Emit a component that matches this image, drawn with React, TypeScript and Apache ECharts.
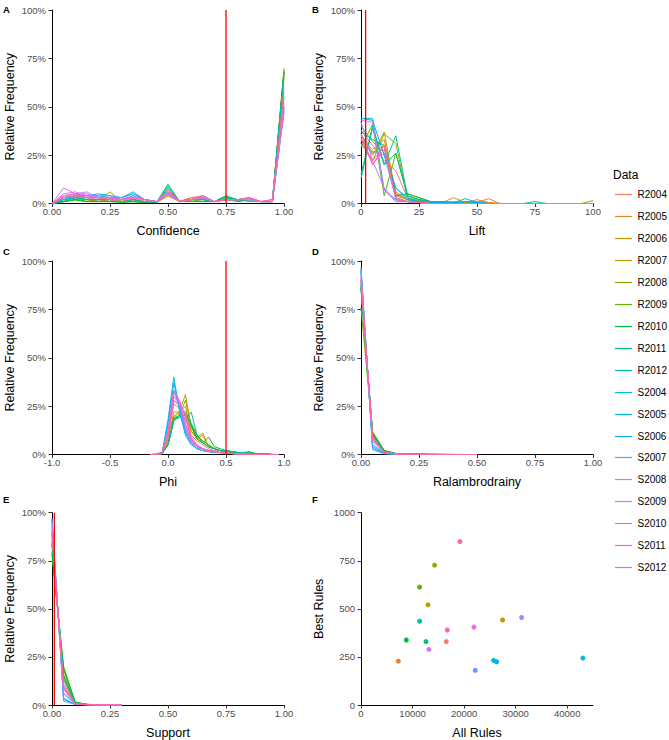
import React, { useEffect, useRef } from "react";
import * as echarts from "echarts";

const categories = [
  "R2004", "R2005", "R2006", "R2007", "R2008", "R2009", "R2010", "R2011", "R2012",
  "S2004", "S2005", "S2006", "S2007", "S2008", "S2009", "S2010", "S2011", "S2012",
];

// Panel A: Confidence (relative frequency %, per category)
const confidenceBins = [0, 0.05, 0.1, 0.15, 0.2, 0.25, 0.3, 0.35, 0.4, 0.45, 0.5, 0.55, 0.6, 0.65, 0.7, 0.75, 0.8, 0.85, 0.9, 0.95, 1.0];
const confidenceFreq = [
  [0, 2, 4, 3, 2, 2, 1, 2, 1, 0.5, 4, 1, 2, 3, 1, 2, 1, 3, 1, 1, 60],
  [0, 1, 2, 1, 2, 1, 1, 2, 1, 0.5, 4, 1, 3, 4, 1, 3, 2, 2, 1, 1, 70],
  [0, 1, 2, 2, 1, 2, 1, 1, 1, 0.5, 5, 1, 3, 3, 1, 2, 2, 2, 1, 1, 68],
  [0, 1, 3, 2, 2, 3, 1, 2, 1, 0.5, 5, 1, 2, 3, 1, 3, 2, 2, 1, 1, 66],
  [0, 1, 2, 1, 2, 6, 1, 1, 1, 0.5, 6, 1, 2, 2, 1, 2, 2, 1, 1, 1, 65],
  [0, 1, 2, 1, 1, 1, 1, 1, 0.5, 0.5, 7, 1, 2, 1, 1, 3, 1, 2, 1, 1, 69],
  [0, 1, 2, 1, 1, 1, 0.5, 1, 0.5, 0.5, 8, 1, 1, 1, 1, 4, 1, 2, 1, 1, 68],
  [0, 1, 3, 2, 2, 2, 1, 2, 1, 0.5, 10, 1, 2, 2, 1, 4, 2, 2, 1, 1, 67],
  [0, 2, 3, 2, 2, 2, 1, 2, 1, 0.5, 9, 1, 2, 2, 1, 3, 2, 2, 1, 1, 68],
  [0, 2, 3, 3, 3, 3, 2, 4, 2, 1, 6, 1, 2, 3, 1, 2, 2, 2, 1, 1, 55],
  [0, 2, 4, 4, 4, 3, 3, 6, 2, 1, 5, 1, 2, 3, 1, 2, 2, 2, 1, 1, 50],
  [0, 3, 4, 4, 5, 4, 3, 5, 2, 1, 5, 1, 2, 3, 1, 2, 2, 2, 1, 1, 48],
  [0, 3, 5, 4, 4, 4, 3, 5, 2, 1, 5, 1, 2, 3, 1, 2, 2, 2, 1, 1, 47],
  [0, 4, 5, 5, 3, 3, 2, 4, 2, 1, 5, 1, 2, 3, 1, 2, 2, 2, 1, 1, 50],
  [0, 8, 5, 6, 3, 3, 2, 3, 2, 1, 5, 1, 2, 3, 1, 2, 2, 3, 1, 2, 48],
  [0, 5, 6, 4, 3, 3, 2, 3, 2, 1, 6, 1, 2, 4, 1, 2, 2, 3, 1, 2, 50],
  [0, 4, 5, 3, 3, 3, 2, 3, 2, 1, 7, 1, 2, 4, 1, 2, 2, 3, 1, 2, 52],
  [0, 3, 4, 3, 3, 2, 1, 3, 1, 1, 7, 1, 2, 4, 1, 2, 2, 3, 1, 1, 58],
];

// Panel B: Lift
const liftBins = [0, 5, 10, 15, 20, 25, 30, 35, 40, 45, 50, 55, 60, 65, 70, 75, 80, 85, 90, 95, 100];
const liftFreq = [
  [38, 30, 22, 17, 3, 1, 0.5, 0.5, 0.5, 0.5, 0.5, 2.5, 0, 0, 0, 0, 0, 0, 0, 0, 0],
  [36, 26, 30, 5, 2, 1, 0.5, 0.5, 3, 0.5, 2, 0.5, 0, 0, 0, 0, 0, 0, 0, 0, 0],
  [33, 28, 33, 6, 2, 1, 0.5, 0.5, 1, 0.5, 1, 0.5, 0, 0, 0, 0, 0, 0, 0, 0, 0],
  [35, 25, 37, 4, 2, 1, 0.5, 0, 0.5, 0, 0.5, 0, 0, 0, 0, 0, 0, 0, 0, 0, 0],
  [31, 22, 36, 31, 3, 1.5, 1, 0.5, 0.5, 0, 0.5, 0, 0, 0, 0, 0, 0, 0, 0, 0, 1.5],
  [29, 41, 4, 26, 5, 3, 1, 0.5, 0.5, 0, 0, 0, 0, 0, 0, 0, 0, 0, 0, 0, 0],
  [37, 33, 30, 4, 5, 3, 1, 0.5, 0, 0, 0, 0, 0, 0, 0, 0, 0, 0, 0, 0, 0],
  [15, 40, 20, 26, 4, 2, 1, 0.5, 0, 0, 0, 0, 0, 0, 0, 0, 0, 0, 0, 0, 0],
  [13, 39, 20, 35, 4, 2, 1, 0.5, 0, 0, 0, 0, 0, 0, 0, 1, 0, 0, 0, 0, 0],
  [40, 32, 26, 8, 3, 1, 1, 1, 0.5, 1, 0, 0, 0, 0, 0, 0, 0, 0, 0, 0, 0],
  [44, 44, 7, 2, 1, 0.5, 0.5, 1, 0.5, 2.5, 0.5, 0, 0, 0, 0, 0, 0, 0, 0, 0, 0],
  [44, 43, 25, 8, 2, 1, 0.5, 0.5, 0.5, 1, 0.5, 0, 0, 0, 0, 0, 0, 0, 0, 0, 0],
  [30, 27, 25, 3, 1, 0.5, 0, 0, 0, 0, 0, 0, 0, 0, 0, 0, 0, 0, 0, 0, 0],
  [42, 22, 8, 1, 1, 0.5, 0, 0, 0, 0, 0, 0, 0, 0, 0, 0, 0, 0, 0, 0, 0],
  [43, 42, 7, 1, 1, 0.5, 0, 0, 0, 0, 0, 0, 0, 0, 0, 0, 0, 0, 0, 0, 0],
  [36, 20, 30, 2, 1, 0.5, 0, 0, 0, 0, 0, 0, 0, 0, 0, 0, 0, 0, 0, 0, 0],
  [34, 20, 28, 2, 1, 0.5, 0, 0, 0, 0, 0, 0, 0, 0, 0, 0, 0, 0, 0, 0, 0],
  [33, 22, 30, 3, 1, 0.5, 0, 0, 0, 0, 0, 0, 0, 0, 0, 0, 0, 0, 0, 0, 0],
];

// Panel C: Phi
const phiBins = [-0.15, -0.1, -0.05, 0, 0.05, 0.1, 0.15, 0.2, 0.25, 0.3, 0.35, 0.4, 0.45, 0.5, 0.55, 0.6, 0.65, 0.7, 0.75, 0.8, 0.85, 0.9, 0.95];
const phiFreq = [
  [0, 0, 1, 10, 26, 24, 18, 10, 7, 5, 3, 2, 2, 1.5, 1.5, 1, 1, 0.5, 0.5, 0.3, 0.2, 0.1, 0],
  [0, 0.5, 1, 8, 22, 22, 20, 12, 8, 6, 4, 3, 2, 1.5, 1, 1, 0.5, 0.5, 0.3, 0.2, 0.1, 0, 0],
  [0, 0, 0.5, 7, 20, 22, 25, 12, 9, 11, 4, 3, 2, 1.5, 1, 1, 0.5, 0.5, 0.3, 0.2, 0.1, 0, 0],
  [0, 0, 0.5, 6, 19, 22, 31, 14, 8, 10, 4, 3, 2, 1.5, 1, 1, 0.5, 0.5, 0.3, 0.2, 0.1, 0, 0],
  [0, 0, 0.5, 5, 18, 20, 28, 15, 9, 7, 5, 3, 2, 1.5, 1, 1, 0.5, 0.5, 0.3, 0.2, 0.1, 0, 0],
  [0, 0, 0.5, 5, 17, 21, 22, 16, 10, 7, 5, 3, 2, 2, 1.5, 1, 1, 1, 0.5, 0.3, 0.2, 0, 0],
  [0, 0, 0.5, 5, 18, 19, 21, 15, 8, 6, 9, 4, 3, 2, 1.5, 1, 1, 1.5, 0.5, 0.3, 0.2, 0, 0],
  [0, 0, 0.5, 5, 19, 20, 20, 16, 10, 6, 4, 3, 2, 2, 1.5, 1, 1, 1, 0.5, 0.3, 0.2, 0, 0],
  [0, 0, 0.5, 5, 18, 20, 18, 22, 10, 6, 4, 3, 2, 2, 1.5, 1, 1, 0.5, 0.5, 0.3, 0.2, 0, 0],
  [0, 0, 1, 12, 33, 25, 13, 7, 4, 3, 2, 1.5, 1, 1, 0.5, 0.5, 0.3, 0.2, 0.1, 0, 0, 0, 0],
  [0, 0, 1, 18, 40, 22, 10, 5, 3, 2, 1.5, 1, 1, 0.5, 0.5, 0.3, 0.2, 0.1, 0, 0, 0, 0, 0],
  [0, 0, 1, 16, 37, 24, 11, 6, 3, 2, 1.5, 1, 1, 0.5, 0.5, 0.3, 0.2, 0.1, 0, 0, 0, 0, 0],
  [0, 0, 1, 14, 30, 26, 12, 6, 4, 2, 1.5, 1, 1, 0.5, 0.5, 0.3, 0.2, 0.1, 0, 0, 0, 0, 0],
  [0, 0, 1, 10, 28, 26, 14, 7, 4, 3, 2, 1.5, 1, 0.5, 0.5, 0.3, 0.2, 0.1, 0, 0, 0, 0, 0],
  [0, 0, 1, 11, 30, 27, 15, 7, 4, 3, 2, 1.5, 1, 0.5, 0.5, 0.3, 0.2, 0.1, 0, 0, 0, 0, 0],
  [0, 0, 1, 12, 33, 28, 16, 8, 4, 3, 2, 1.5, 1, 0.5, 0.5, 0.3, 0.2, 0.1, 0, 0, 0, 0, 0],
  [0, 0, 1, 11, 32, 27, 20, 8, 5, 3, 2, 1.5, 1, 1, 0.5, 0.3, 0.2, 0.1, 0, 0, 0, 0, 0],
  [0, 0, 1, 9, 28, 25, 22, 9, 5, 3, 2, 1.5, 1, 1, 0.5, 0.3, 0.2, 0.1, 0, 0, 0, 0, 0],
];

// Panel D: Ralambrodrainy
const ralBins = [0, 0.05, 0.1, 0.15, 0.2, 0.25, 0.3, 0.35, 0.4, 0.45, 0.5];
const ralFreq = [
  [90, 8, 1.5, 0.3, 0.2, 0.1, 0.1, 0, 0, 0, 0],
  [88, 10, 1.5, 0.4, 0.2, 0.1, 0.1, 0.1, 0, 0, 0],
  [87, 10, 2, 0.5, 0.3, 0.2, 0.1, 0.1, 0.1, 0, 0],
  [86, 11, 2, 0.5, 0.3, 0.2, 0.1, 0.1, 0, 0, 0],
  [85, 12, 2, 0.5, 0.3, 0.1, 0.1, 0, 0, 0, 0],
  [76, 11, 2, 0.5, 0.3, 0.1, 0.1, 0, 0, 0, 0],
  [86, 11, 2, 0.5, 0.2, 0.1, 0, 0, 0, 0, 0],
  [87, 10, 1.5, 0.4, 0.2, 0.1, 0, 0, 0, 0, 0],
  [88, 9, 1.5, 0.4, 0.2, 0.1, 0, 0, 0, 0, 0],
  [94, 5, 0.8, 0.2, 0.1, 0, 0, 0, 0, 0, 0],
  [96, 3, 0.5, 0.2, 0.1, 0, 0, 0, 0, 0, 0],
  [95, 4, 0.6, 0.2, 0.1, 0, 0, 0, 0, 0, 0],
  [97, 2.5, 0.4, 0.1, 0, 0, 0, 0, 0, 0, 0],
  [92, 7, 1, 0.2, 0.1, 0, 0, 0, 0, 0, 0],
  [92, 7, 1, 0.2, 0.1, 0, 0, 0, 0, 0, 0],
  [91, 8, 1, 0.3, 0.1, 0, 0, 0, 0, 0, 0],
  [90, 9, 1, 0.3, 0.1, 0, 0, 0, 0, 0, 0],
  [90, 9, 1, 0.3, 0.1, 0, 0, 0, 0, 0, 0],
];

// Panel E: Support
const supportBins = [0, 0.05, 0.1, 0.15, 0.2, 0.25, 0.3];
const supportFreq = [
  [88, 11, 0.8, 0.2, 0.1, 0, 0],
  [85, 14, 1, 0.3, 0.1, 0, 0],
  [84, 15, 1, 0.3, 0.1, 0, 0],
  [83, 16, 1, 0.3, 0.1, 0, 0],
  [80, 18, 1.2, 0.3, 0.1, 0, 0],
  [78, 20, 1.5, 0.4, 0.1, 0, 0],
  [79, 19, 1.5, 0.3, 0.1, 0, 0],
  [84, 15, 1, 0.3, 0.1, 0, 0],
  [86, 13, 0.8, 0.2, 0.1, 0, 0],
  [93, 6, 0.5, 0.1, 0, 0, 0],
  [96, 3.5, 0.3, 0.1, 0, 0, 0],
  [96, 3, 0.3, 0.1, 0, 0, 0],
  [97, 2, 0.3, 0.1, 0, 0, 0],
  [93, 6, 0.5, 0.1, 0, 0, 0],
  [91, 8, 0.5, 0.1, 0, 0, 0],
  [90, 9, 0.6, 0.1, 0, 0, 0],
  [89, 10, 0.7, 0.2, 0, 0, 0],
  [90, 9, 0.6, 0.2, 0, 0, 0],
];

// Panel F: rules
const allRules = [16540, 7240, 27460, 12990, 14280, 11370, 8790, 12600, 11370, 25720, 43040, 26300, 22160, 31150, 13180, 21900, 16740, 19190];
const bestRules = [330, 228, 442, 521, 727, 613, 338, 330, 436, 232, 244, 225, 180, 455, 289, 405, 390, 850];

// Thresholds (red lines)
const confidenceThreshold = 0.75;
const liftThreshold = 2;
const phiThreshold = 0.5;
const supportThreshold = 0.01;

const pctTicks = [0, 25, 50, 75, 100];

function hclColor(h: number, c = 100, l = 65): string {
  const hr = (h * Math.PI) / 180;
  const U = c * Math.cos(hr);
  const V = c * Math.sin(hr);
  const Xn = 95.047, Yn = 100, Zn = 108.883;
  const Y = l > 8 ? Yn * Math.pow((l + 16) / 116, 3) : (Yn * l) / 903.3;
  const t = Xn + 15 * Yn + 3 * Zn;
  const un = (4 * Xn) / t, vn = (9 * Yn) / t;
  const up = U / (13 * l) + un;
  const vp = V / (13 * l) + vn;
  const X = (Y * 9 * up) / (4 * vp);
  const Z = (Y * (12 - 3 * up - 20 * vp)) / (4 * vp);
  const x = X / 100, y = Y / 100, z = Z / 100;
  const lin = [
    3.240479 * x - 1.53715 * y - 0.498535 * z,
    -0.969256 * x + 1.875992 * y + 0.041556 * z,
    0.055648 * x - 0.204043 * y + 1.057311 * z,
  ];
  const hex = lin
    .map((v) => {
      let g = v <= 0.0031308 ? 12.92 * v : 1.055 * Math.pow(Math.max(v, 0), 1 / 2.4) - 0.055;
      g = Math.min(1, Math.max(0, g));
      return Math.round(g * 255).toString(16).padStart(2, "0");
    })
    .join("");
  return "#" + hex;
}

const FONT = "Liberation Sans, Arial, Helvetica, sans-serif";
const colors = categories.map((_, i) => hclColor(15 + (360 / categories.length) * i));

function buildOption() {
  const grids = [
    { left: 52, top: 10, width: 232, height: 193.5 },
    { left: 361, top: 10, width: 232, height: 193.5 },
    { left: 52, top: 261, width: 232, height: 193.5 },
    { left: 361, top: 261, width: 232, height: 193.5 },
    { left: 52, top: 512.7, width: 232, height: 194 },
    { left: 361, top: 512.7, width: 232, height: 194 },
  ];

  const axisCommon = {
    axisLine: { show: true, onZero: false, lineStyle: { color: "#000", width: 1 } },
    axisTick: { show: true, length: 3.5, lineStyle: { color: "#333", width: 1 } },
    splitLine: { show: false },
    nameLocation: "middle" as const,
    nameTextStyle: { fontSize: 12.5, color: "#000", fontFamily: FONT },
  };

  const xAxis = (gi: number, min: number, max: number, interval: number, name: string, fmt: (v: number) => string, extra: any = {}) => ({
    ...axisCommon,
    type: "value",
    gridIndex: gi,
    min,
    max,
    interval,
    name,
    nameGap: 21,
    axisLabel: { color: "#4D4D4D", fontSize: 9.5, fontFamily: FONT, margin: 3, formatter: fmt, showMinLabel: true, showMaxLabel: true, ...(extra.axisLabel || {}) },
    axisTick: { ...axisCommon.axisTick, ...(extra.axisTick || {}) },
  });

  const yAxis = (gi: number, min: number, max: number, interval: number, name: string, fmt: (v: number) => string) => ({
    ...axisCommon,
    type: "value",
    gridIndex: gi,
    min,
    max,
    interval,
    name,
    nameGap: 36,
    axisLabel: { color: "#4D4D4D", fontSize: 9.5, fontFamily: FONT, margin: 6, formatter: fmt },
  });

  const pct = (v: number) => `${v}%`;
  const f2 = (v: number) => v.toFixed(2);
  const f1 = (v: number) => v.toFixed(1);
  const f0 = (v: number) => String(v);

  const xAxes = [
    xAxis(0, 0, 1, 0.25, "Confidence", f2),
    xAxis(1, 0, 100, 25, "Lift", f0),
    xAxis(2, -1, 1, 0.5, "Phi", f1),
    xAxis(3, 0, 1, 0.25, "Ralambrodrainy", f2),
    xAxis(4, 0, 1, 0.25, "Support", f2),
    xAxis(5, 0, 45000, 10000, "All Rules", f0, {
      axisLabel: { customValues: [0, 10000, 20000, 30000, 40000] },
      axisTick: { customValues: [0, 10000, 20000, 30000, 40000] },
    }),
  ];
  const yAxes = [0, 1, 2, 3, 4].map((gi) => yAxis(gi, pctTicks[0], pctTicks[pctTicks.length - 1], 25, "Relative Frequency", pct));
  yAxes.push(yAxis(5, 0, 1000, 250, "Best Rules", f0));

  const series: any[] = [];
  const panels: [number[], number[][]][] = [
    [confidenceBins, confidenceFreq],
    [liftBins, liftFreq],
    [phiBins, phiFreq],
    [ralBins, ralFreq],
    [supportBins, supportFreq],
  ];
  panels.forEach(([bins, freq], gi) => {
    freq.forEach((vals, ci) => {
      series.push({
        type: "line",
        name: categories[ci],
        xAxisIndex: gi,
        yAxisIndex: gi,
        data: bins.map((b, k) => [b, vals[k]]),
        showSymbol: false,
        symbol: "none",
        lineStyle: { color: colors[ci], width: 1 },
        itemStyle: { color: colors[ci] },
        silent: true,
        z: 2,
      });
    });
  });

  const thresholds: [number, number][] = [
    [0, confidenceThreshold],
    [1, liftThreshold],
    [2, phiThreshold],
    [4, supportThreshold],
  ];
  thresholds.forEach(([gi, v]) => {
    series.push({
      type: "line",
      name: "threshold",
      xAxisIndex: gi,
      yAxisIndex: gi,
      data: [[v, 0], [v, 100]],
      showSymbol: false,
      symbol: "none",
      lineStyle: { color: "#FF0000", width: 1.3 },
      silent: true,
      z: 3,
    });
  });

  categories.forEach((cat, ci) => {
    series.push({
      type: "scatter",
      name: cat,
      xAxisIndex: 5,
      yAxisIndex: 5,
      data: [[allRules[ci], bestRules[ci]]],
      symbolSize: 5,
      itemStyle: { color: colors[ci], opacity: 1 },
      silent: true,
      z: 2,
    });
  });

  const letters = [
    ["A", 3, 4],
    ["B", 312, 4],
    ["C", 3, 246],
    ["D", 312, 246],
    ["E", 3, 494],
    ["F", 312, 494],
  ];
  const graphic: any[] = letters.map(([t, x, y]) => ({
    type: "text",
    x,
    y,
    style: { text: t, fontSize: 9.5, fontWeight: "bold", fontFamily: FONT, fill: "#000" },
    silent: true,
  }));

  graphic.push({
    type: "text",
    x: 613,
    y: 174.5,
    style: { text: "Data", fontSize: 12, fontFamily: FONT, fill: "#000", verticalAlign: "middle" },
    silent: true,
  });
  categories.forEach((cat, ci) => {
    const y = Math.round(194.3 + ci * 21.93);
    graphic.push({
      type: "line",
      shape: { x1: 615, y1: y + 0.5, x2: 632, y2: y + 0.5 },
      style: { stroke: colors[ci], lineWidth: 1.2 },
      silent: true,
    });
    graphic.push({
      type: "text",
      x: 637.5,
      y: y + 0.5,
      style: { text: cat, fontSize: 10, fontFamily: FONT, fill: "#000", verticalAlign: "middle" },
      silent: true,
    });
  });

  return {
    animation: false,
    backgroundColor: "#fff",
    textStyle: { fontFamily: FONT },
    grid: grids,
    xAxis: xAxes,
    yAxis: yAxes,
    series,
    graphic,
  };
}

export default function App() {
  const ref = useRef<HTMLDivElement>(null);
  useEffect(() => {
    if (!ref.current) return;
    const chart = echarts.init(ref.current, null, { renderer: "svg" });
    chart.setOption(buildOption() as any);
    return () => chart.dispose();
  }, []);
  return <div ref={ref} style={{ position: "absolute", left: 0, top: 0, width: 669, height: 740 }} />;
}
